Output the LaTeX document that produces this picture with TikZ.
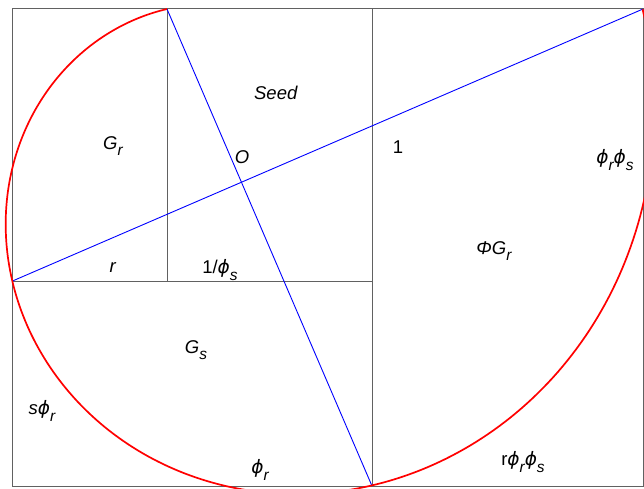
\documentclass[tikz,border=0pt]{standalone}
\usepackage{fontspec}
\setmainfont{Liberation Sans}
\newfontfamily\phifont{DejaVu Sans}
\newcommand{\ph}{{\phifont\itshape\symbol{"03D5}}}
\newcommand{\sbs}[1]{\raisebox{-6.5pt}{\fontsize{15.5}{16}\selectfont\itshape #1}}
\tikzset{
  frame/.style={draw=black!62, line width=1pt},
  diag/.style={draw=blue, line width=0.9pt},
  spiral/.style={draw=red, line width=1.7pt},
  lab/.style={inner sep=0pt, font=\fontsize{18.5}{22}\selectfont}
}
\begin{document}
\begin{tikzpicture}[x=1pt,y=-1pt]
\useasboundingbox (0,0) rectangle (644,489);
% corners and points
\coordinate (TL) at (12.5,9);
\coordinate (TR) at (643,9);
\coordinate (BL) at (12.5,486);
\coordinate (BR) at (643,486);
\coordinate (A) at (167,9);
\coordinate (B) at (167,281);
\coordinate (C) at (372,9);
\coordinate (D) at (372,486);
\coordinate (E) at (12.5,281);
\coordinate (F) at (372,281);
% frame
\draw[frame] (TL) -- (TR) -- (BR) -- (BL) -- cycle;
\draw[frame] (A) -- (B);
\draw[frame] (C) -- (D);
\draw[frame] (E) -- (F);
% diagonals
\draw[diag] (A) -- (D);
\draw[diag] (E) -- (TR);
% spiral centred at O
\begin{scope}
\clip (0,0) rectangle (644,489);
\draw[spiral] plot[domain=113.25:383.33, samples=240, variable=\t]
  ({241.4 + 188.5*exp(0.003118*(\t-113.25))*cos(\t)},
   {182.2 - 188.5*exp(0.003118*(\t-113.25))*sin(\t)});
\end{scope}
% labels
\node[lab] (gr) at (113,146) {\textit{G}\sbs{r}};
\node[lab] (seed) at (276,93) {\textit{Seed}};
\node[lab] (o) at (242,157) {\textit{O}};
\node[lab] (one) at (398,147) {1};
\node[lab] (prps) at (615,160) {\ph\sbs{r}\ph\sbs{s}};
\node[lab] (PGr) at (494,251) {\textit{Φ}\textit{G}\sbs{r}};
\node[lab] (r) at (113,268) {\textit{r}};
\node[lab] (ips) at (220,270) {1/\ph\sbs{s}};
\node[lab] (gs) at (196,350) {\textit{G}\sbs{s}};
\node[lab] (spr) at (42,411) {\textit{s}\ph\sbs{r}};
\node[lab] (pr) at (260,470) {\ph\sbs{r}};
\node[lab] (rprps) at (523,462) {r\ph\sbs{r}\ph\sbs{s}};
\end{tikzpicture}
\end{document}
